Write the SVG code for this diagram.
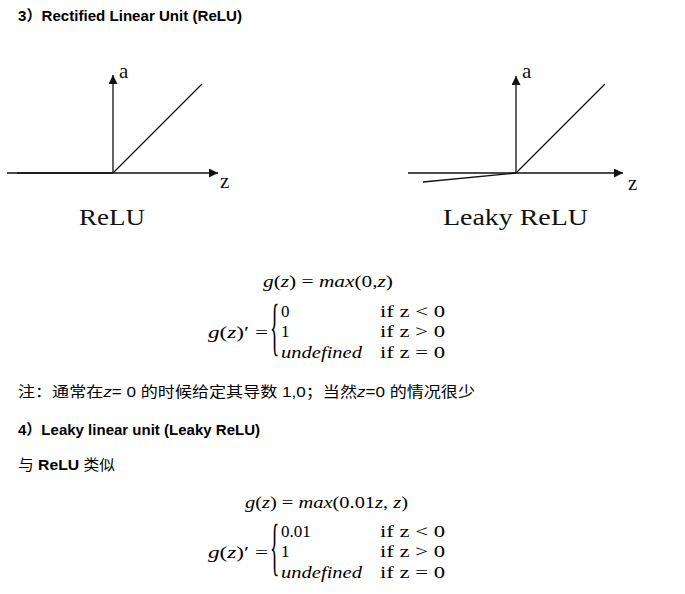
<svg xmlns="http://www.w3.org/2000/svg" width="685" height="594" viewBox="0 0 685 594">
<defs>
<style>
.h{font-family:"Liberation Sans","Noto Sans CJK SC",sans-serif;font-weight:bold;font-size:14.5px;fill:#000}
.t{font-family:"Liberation Sans","Noto Sans CJK SC",sans-serif;font-size:15px;fill:#000}
.lab{font-family:"Liberation Serif","DejaVu Serif",serif;font-size:24px;fill:#111}
.ax{font-family:"Liberation Serif","DejaVu Serif",serif;font-size:21px;fill:#111}
.m{font-family:"Liberation Serif","DejaVu Serif",serif;font-size:17px;fill:#000}
.mi{font-family:"Liberation Serif","DejaVu Serif",serif;font-style:italic;font-size:17px;fill:#000}
.br{font-family:"Liberation Serif","DejaVu Serif",serif;font-size:64px;fill:#000}
.ln{stroke:#111;stroke-width:1.3;fill:none}
</style>
<marker id="arr" viewBox="0 0 10 10" refX="10" refY="5" markerWidth="9" markerHeight="9" markerUnits="userSpaceOnUse" orient="auto"><path d="M0,0 L10,5 L0,10 z" fill="#111"/></marker>
</defs>
<rect width="685" height="594" fill="#fff"/>

<text class="h" x="18" y="21" textLength="224" lengthAdjust="spacingAndGlyphs">3）Rectified Linear Unit (ReLU)</text>

<g id="relu-plot">
<line class="ln" x1="7" y1="173" x2="218" y2="173" marker-end="url(#arr)"/>
<line class="ln" x1="113" y1="173" x2="113" y2="75" marker-end="url(#arr)"/>
<line class="ln" x1="17" y1="173" x2="113" y2="173" stroke-width="1.8"/>
<line class="ln" x1="113" y1="173" x2="202" y2="84"/>
<text class="ax" x="119" y="78">a</text>
<text class="ax" x="220" y="188">z</text>
<text class="lab" x="79" y="225" textLength="66" lengthAdjust="spacingAndGlyphs">ReLU</text>
</g>

<g id="leaky-plot">
<line class="ln" x1="408" y1="173" x2="623" y2="173" marker-end="url(#arr)"/>
<line class="ln" x1="516" y1="173" x2="516" y2="76" marker-end="url(#arr)"/>
<line class="ln" x1="423" y1="182" x2="516" y2="173"/>
<line class="ln" x1="516" y1="173" x2="605" y2="84"/>
<text class="ax" x="522" y="78">a</text>
<text class="ax" x="628" y="190">z</text>
<text class="lab" x="443" y="225" textLength="145" lengthAdjust="spacingAndGlyphs">Leaky ReLU</text>
</g>

<g id="relu-formula">
<text x="263" y="287" textLength="130" lengthAdjust="spacingAndGlyphs"><tspan class="mi">g</tspan><tspan class="m">(</tspan><tspan class="mi">z</tspan><tspan class="m">) = </tspan><tspan class="mi">max</tspan><tspan class="m">(0,</tspan><tspan class="mi">z</tspan><tspan class="m">)</tspan></text>
<text x="208" y="338" textLength="60" lengthAdjust="spacingAndGlyphs"><tspan class="mi">g</tspan><tspan class="m">(</tspan><tspan class="mi">z</tspan><tspan class="m">)′ =</tspan></text>
<text class="br" transform="translate(270,348) scale(0.3,1)">{</text>
<text class="m" x="281" y="317">0</text>
<text class="m" x="281" y="337">1</text>
<text class="mi" x="281" y="358" textLength="81" lengthAdjust="spacingAndGlyphs">undefined</text>
<text class="m" x="380" y="317" textLength="65" lengthAdjust="spacingAndGlyphs">if z &lt; 0</text>
<text class="m" x="380" y="337" textLength="65" lengthAdjust="spacingAndGlyphs">if z &gt; 0</text>
<text class="m" x="380" y="358" textLength="65" lengthAdjust="spacingAndGlyphs">if z = 0</text>
</g>

<text class="t" x="18" y="397" textLength="457" lengthAdjust="spacingAndGlyphs">注：通常在<tspan font-style="italic">z</tspan>= 0 的时候给定其导数 1,0；当然<tspan font-style="italic">z</tspan>=0 的情况很少</text>

<text class="h" x="18" y="435" textLength="242" lengthAdjust="spacingAndGlyphs">4）Leaky linear unit (Leaky ReLU)</text>

<text class="t" x="18" y="470" textLength="97" lengthAdjust="spacingAndGlyphs">与 <tspan font-weight="bold">ReLU</tspan> 类似</text>

<g id="leaky-formula">
<text x="245" y="508" textLength="163" lengthAdjust="spacingAndGlyphs"><tspan class="mi">g</tspan><tspan class="m">(</tspan><tspan class="mi">z</tspan><tspan class="m">) = </tspan><tspan class="mi">max</tspan><tspan class="m">(0.01</tspan><tspan class="mi">z</tspan><tspan class="m">, </tspan><tspan class="mi">z</tspan><tspan class="m">)</tspan></text>
<text x="208" y="558" textLength="60" lengthAdjust="spacingAndGlyphs"><tspan class="mi">g</tspan><tspan class="m">(</tspan><tspan class="mi">z</tspan><tspan class="m">)′ =</tspan></text>
<text class="br" transform="translate(270,568) scale(0.3,1)">{</text>
<text class="m" x="281" y="537">0.01</text>
<text class="m" x="281" y="557">1</text>
<text class="mi" x="281" y="578" textLength="81" lengthAdjust="spacingAndGlyphs">undefined</text>
<text class="m" x="380" y="537" textLength="65" lengthAdjust="spacingAndGlyphs">if z &lt; 0</text>
<text class="m" x="380" y="557" textLength="65" lengthAdjust="spacingAndGlyphs">if z &gt; 0</text>
<text class="m" x="380" y="578" textLength="65" lengthAdjust="spacingAndGlyphs">if z = 0</text>
</g>
</svg>
